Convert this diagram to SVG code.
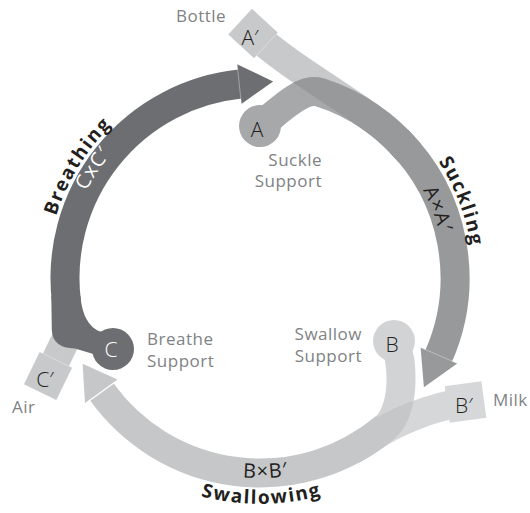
<svg xmlns="http://www.w3.org/2000/svg" width="530" height="513" viewBox="0 0 530 513">
<style>
  .lbl{font-family:"Open Sans","Liberation Sans",sans-serif;font-size:17px;fill:#808285;letter-spacing:0.5px}
  .key{font-family:"Open Sans","Liberation Sans",sans-serif;font-size:21px;font-weight:300;fill:#231f20;text-anchor:middle}
  .cyc{font-family:"Open Sans","Liberation Sans",sans-serif;font-size:19px;font-weight:700;fill:#231f20;letter-spacing:1.6px}
  .prod{font-family:"Open Sans","Liberation Sans",sans-serif;font-size:20px;font-weight:400;fill:#231f20;letter-spacing:1.2px}
  .band{fill:none;stroke-width:29}
  .seam{stroke:#ffffff;stroke-opacity:0.45;stroke-width:0.8;fill:none}
</style>
<defs>
  <!-- input bands feeding each cycle arc -->
  <path id="bandAp" d="M253,33.5 C290,67.5 354.7,102.9 385.3,128.6 A195,195 0 0 1 409.4,152.7"/>
  <path id="bandA" d="M260,126 C276,114 301.3,86.3 320.3,92.5 A195,195 0 0 1 409.4,152.7"/>
  <path id="bandBp" d="M465.5,402 C430.8,406.7 392.3,423.35 371.85,437.7 A195,195 0 0 1 351.6,450.2"/>
  <path id="bandB" d="M395,343 C400,355 401,365 401,380 C401,398 396,418.4 385.3,427.4 A195,195 0 0 1 351.6,450.2"/>
  <!-- label baselines -->
  <path id="tBreath" d="M72.8,379.6 A213,213 0 0 1 265.6,65.1"/>
  <path id="tCxC" d="M86.5,364.9 A192,192 0 0 1 271.5,86.3"/>
  <path id="tSuck" d="M294.1,67.7 A213,213 0 0 1 425.1,412.6"/>
  <path id="tAxA" d="M288.6,95.2 A185,185 0 0 1 404.4,393.6"/>
  <path id="tBxB" d="M89.8,383.1 A200,200 0 0 0 436.1,372.8"/>
  <path id="tSwal" d="M65.1,392.4 A226,226 0 0 0 456.5,389.6"/>
  <mask id="mAp" maskUnits="userSpaceOnUse" x="0" y="0" width="530" height="513">
    <use href="#bandAp" fill="none" stroke="#fff" stroke-width="29"/>
  </mask>
  <mask id="mBp" maskUnits="userSpaceOnUse" x="0" y="0" width="530" height="513">
    <use href="#bandBp" fill="none" stroke="#fff" stroke-width="29"/>
  </mask>
</defs>

<g id="connectors">
  <!-- Breathing: air band under the dark arc -->
  <path class="band" d="M48,376 L68,335" stroke="#c8c9cb" stroke-width="28"/>
  <path class="band" d="M66.45,301.8 A195,195 0 0 1 240.3,84.0" stroke="#6d6e71"/>
  <path d="M51.3,296 L51.8,330 Q52.5,348 75,348.5 L100,356 L108,332 L100,331.5 Q83,325 80.4,296 Z" fill="#6d6e71"/>
  <polygon points="237.1,64.2 273.1,81.4 241.4,104.0" fill="#6d6e71"/>
  <line class="seam" x1="237.1" y1="64.2" x2="241.4" y2="104.0"/>

  <!-- Suckling: bottle band and suckle band merge -->
  <use href="#bandAp" class="band" stroke="#c8c9cb"/>
  <use href="#bandA" class="band" stroke="#a7a8aa"/>
  <use href="#bandA" class="band" stroke="#98999b" mask="url(#mAp)"/>
  <path class="band" d="M397.9,140.1 A195,195 0 0 1 438.4,356.7" stroke="#98999b"/>
  <polygon points="420.6,347.5 457.3,363.4 423.9,387.3" fill="#98999b"/>
  <line class="seam" x1="420.6" y1="347.5" x2="457.3" y2="363.4"/>

  <!-- Swallowing: milk band and swallow band merge -->
  <use href="#bandBp" class="band" stroke="#d6d7d9"/>
  <use href="#bandB" class="band" stroke="#d2d3d5"/>
  <use href="#bandB" class="band" stroke="#c6c7c9" mask="url(#mBp)"/>
  <path class="band" d="M385.3,427.4 A195,195 0 0 1 102.05,392.35" stroke="#c6c7c9"/>
  <polygon points="117.5,379.6 85.0,402.9 82.6,363.7" fill="#c6c7c9"/>

  <!-- cycle names and products -->
  <text class="cyc"><textPath href="#tBreath" startOffset="50%" text-anchor="middle">Breathing</textPath></text>
  <text class="prod" style="fill:#ffffff"><textPath href="#tCxC" startOffset="50%" text-anchor="middle">CxC′</textPath></text>
  <text class="cyc"><textPath href="#tSuck" startOffset="50%" text-anchor="middle">Suckling</textPath></text>
  <text class="prod"><textPath href="#tAxA" startOffset="50%" text-anchor="middle">A×A′</textPath></text>
  <text class="prod"><textPath href="#tBxB" startOffset="50%" text-anchor="middle">B×B′</textPath></text>
  <text class="cyc"><textPath href="#tSwal" startOffset="50%" text-anchor="middle">Swallowing</textPath></text>
</g>

<g id="node-a-prime">
  <rect x="-17.5" y="-17.5" width="35" height="35" fill="#c8c9cb" transform="translate(253,33.5) rotate(42.6)"/>
  <line class="seam" x1="275.7" y1="34.6" x2="256.1" y2="56.0"/>
  <text class="key" x="250" y="45">A′</text>
  <text class="lbl" x="176" y="22">Bottle</text>
</g>

<g id="node-a">
  <circle cx="260" cy="126" r="21" fill="#a7a8aa"/>
  <text class="key" x="257" y="137">A</text>
  <text class="lbl" x="322" y="165.5" text-anchor="end">Suckle</text>
  <text class="lbl" x="322" y="187" text-anchor="end">Support</text>
</g>

<g id="node-b">
  <circle cx="394" cy="341" r="21" fill="#d2d3d5"/>
  <text class="key" x="392" y="352">B</text>
  <text class="lbl" x="362" y="340" text-anchor="end">Swallow</text>
  <text class="lbl" x="362" y="362" text-anchor="end">Support</text>
</g>

<g id="node-b-prime">
  <rect x="-18.5" y="-18.5" width="37" height="37" fill="#d6d7d9" transform="translate(465.5,402) rotate(-7.7)"/>
  <text class="key" x="464" y="413">B′</text>
  <text class="lbl" x="493" y="406">Milk</text>
</g>

<g id="node-c">
  <circle cx="113" cy="349" r="21" fill="#6d6e71"/>
  <text class="key" x="111" y="357" style="fill:#ffffff">C</text>
  <text class="lbl" x="147" y="345">Breathe</text>
  <text class="lbl" x="147" y="367">Support</text>
</g>

<g id="node-c-prime">
  <rect x="-18" y="-18" width="36" height="36" fill="#c8c9cb" transform="translate(48,376) rotate(26)"/>
  <line class="seam" x1="42.9" y1="353.4" x2="68.9" y2="366.2"/>
  <text class="key" x="45" y="387">C′</text>
  <text class="lbl" x="12" y="412.5">Air</text>
</g>
</svg>
